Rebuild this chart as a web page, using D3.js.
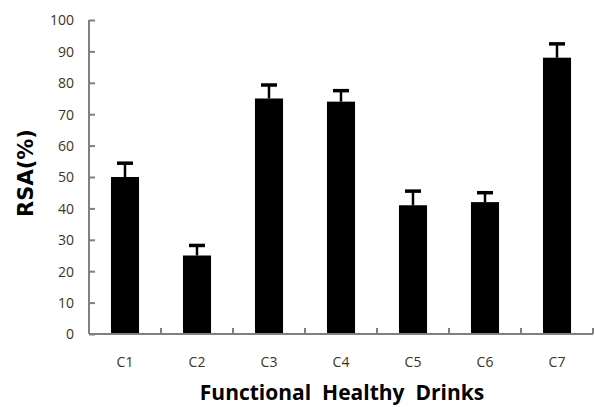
<!DOCTYPE html>
<html><head><meta charset="utf-8">
<script src="https://cdn.jsdelivr.net/npm/d3@7"></script>
<style>body{margin:0;background:#fff}svg{display:block}</style>
</head><body>
<script>
const categories = ["C1","C2","C3","C4","C5","C6","C7"];
const values = [50, 25, 75, 74, 41, 42, 88];
const errors = [4.4, 3.2, 4.3, 3.5, 4.5, 3.0, 4.4];
const yTicks = [0,10,20,30,40,50,60,70,80,90,100];

const W = 595, H = 407;
const m = {left: 89, right: 2, top: 20, bottom: 73};
const svg = d3.select("body").append("svg").attr("width", W).attr("height", H);

const x = d3.scaleBand().domain(categories).range([m.left, W - m.right]).paddingInner(0.61).paddingOuter(0.305);
const y = d3.scaleLinear().domain([0, 100]).range([H - m.bottom, m.top]);

const font = "'Open Sans', 'Noto Sans', sans-serif";
const axisColor = "#808080";

// bars
svg.append("g").selectAll("rect").data(categories).join("rect")
  .attr("x", d => x(d)).attr("width", x.bandwidth())
  .attr("y", (d,i) => y(values[i])).attr("height", (d,i) => y(0) - y(values[i]))
  .attr("fill", "#000");

// error bars (upper only)
const eb = svg.append("g").attr("stroke", "#000");
eb.selectAll("line.stem").data(categories).join("line").attr("class","stem")
  .attr("x1", d => x(d) + x.bandwidth()/2).attr("x2", d => x(d) + x.bandwidth()/2)
  .attr("y1", (d,i) => y(values[i])).attr("y2", (d,i) => y(values[i] + errors[i]))
  .attr("stroke-width", 2.5);
eb.selectAll("line.cap").data(categories).join("line").attr("class","cap")
  .attr("x1", d => x(d) + x.bandwidth()/2 - 8).attr("x2", d => x(d) + x.bandwidth()/2 + 8)
  .attr("y1", (d,i) => y(values[i] + errors[i])).attr("y2", (d,i) => y(values[i] + errors[i]))
  .attr("stroke-width", 3.5);

// y axis
const yAxis = svg.append("g").attr("transform", `translate(${m.left},0)`)
  .call(d3.axisRight(y).tickValues(yTicks).tickSize(6).tickFormat(d3.format("d")));
yAxis.select(".domain").attr("stroke", axisColor).attr("stroke-width", 2).attr("d", `M0,${y(100)}V${y(0)}`);
yAxis.selectAll(".tick line").attr("stroke", axisColor).attr("stroke-width", 2);
yAxis.selectAll(".tick text").attr("x", -15).attr("text-anchor", "end")
  .attr("font-family", font).attr("font-size", 14).attr("fill", "#3b3428").attr("dy", "0.35em");

// x axis
const xAxis = svg.append("g").attr("transform", `translate(0,${y(0)})`)
  .call(d3.axisBottom(x).tickSize(0).tickPadding(0));
xAxis.select(".domain").attr("stroke", axisColor).attr("stroke-width", 2).attr("d", `M${m.left},0H${W - m.right}`);
xAxis.selectAll(".tick text").attr("y", 33).attr("dy", 0)
  .attr("font-family", font).attr("font-size", 14).attr("fill", "#3b3428");
// boundary ticks between categories
const step = x.step();
const bounds = d3.range(1, categories.length + 1).map(i => m.left + i * step);
svg.append("g").selectAll("line").data(bounds).join("line")
  .attr("x1", d => d).attr("x2", d => d).attr("y1", y(0)).attr("y2", y(0) - 6)
  .attr("stroke", axisColor).attr("stroke-width", 2);

// titles
svg.append("text").attr("transform", `translate(33,173) rotate(-90)`)
  .attr("text-anchor", "middle").attr("font-family", "'DejaVu Sans', sans-serif").attr("font-weight", "bold")
  .attr("font-size", 21).attr("fill", "#000").text("RSA(%)");
svg.append("text").attr("x", 342).attr("y", 400).attr("text-anchor", "middle")
  .attr("font-family", font).attr("font-weight", "bold").attr("font-size", 21)
  .attr("fill", "#000").attr("xml:space", "preserve").style("white-space", "pre")
  .text("Functional  Healthy  Drinks");
</script>
</body></html>
